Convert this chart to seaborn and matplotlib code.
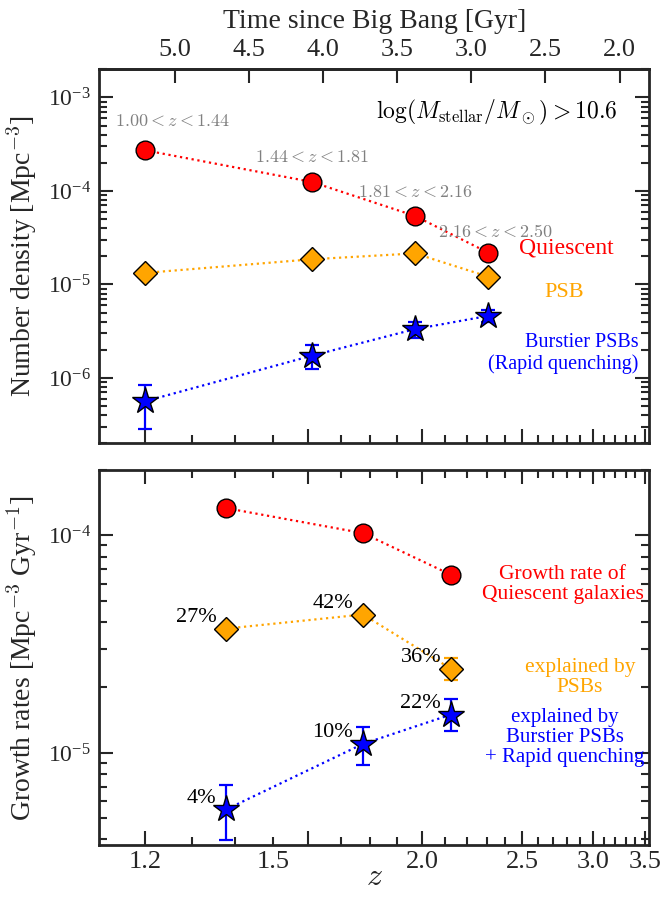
import numpy as np
import matplotlib
matplotlib.use("Agg")
import matplotlib.pyplot as plt
from matplotlib.ticker import LogLocator, NullFormatter, LogFormatterSciNotation, FixedLocator
import seaborn as sns

# ---------------- data ----------------
z_bins = [1.20, 1.61, 1.97, 2.31]
bin_labels = [r"$1.00<z<1.44$", r"$1.44<z<1.81$", r"$1.81<z<2.16$", r"$2.16<z<2.50$"]
nd_quiescent = [2.72e-4, 1.25e-4, 5.41e-5, 2.18e-5]
nd_psb = [1.33e-5, 1.86e-5, 2.15e-5, 1.21e-5]
nd_burst = [5.64e-7, 1.73e-6, 3.33e-6, 4.62e-6]
nd_burst_lo = [2.86e-7, 1.26e-6, 2.67e-6, 3.98e-6]
nd_burst_hi = [8.34e-7, 2.26e-6, 4.00e-6, 5.35e-6]

z_growth = [1.38, 1.775, 2.125]
gr_quiescent = [1.335e-4, 1.025e-4, 6.60e-5]
gr_psb = [3.73e-5, 4.33e-5, 2.44e-5]
gr_psb_lo = [3.73e-5, 4.33e-5, 2.17e-5]
gr_psb_hi = [3.73e-5, 4.33e-5, 2.72e-5]
gr_burst = [5.50e-6, 1.10e-5, 1.50e-5]
gr_burst_lo = [3.97e-6, 8.78e-6, 1.262e-5]
gr_burst_hi = [7.11e-6, 1.316e-5, 1.778e-5]
pct_psb = [27, 42, 36]
pct_burst = [4, 10, 22]

z_tick_labels = [1.2, 1.5, 2.0, 2.5, 3.0, 3.5]
z_major_ticks = [1.2, 1.6, 2.0, 2.5, 3.0, 3.5]
z_minor_ticks = [1.3, 1.4, 1.5, 1.7, 1.8, 1.9, 2.1, 2.2, 2.3, 2.4,
                 2.6, 2.7, 2.8, 2.9, 3.1, 3.2, 3.3, 3.4]
time_ticks = [5.0, 4.5, 4.0, 3.5, 3.0, 2.5, 2.0]


def cosmic_time(z, H0=70.0, Om=0.3):
    z = np.asarray(z, float)
    OL = 1.0 - Om
    tH = 977.8 / H0
    return 2 * tH / (3 * np.sqrt(OL)) * np.arcsinh(np.sqrt(OL / Om) * (1 + z) ** -1.5)


TOP_SCALE = 70.0 / 67.8  # time on top axis (different H0)

# ---------------- style ----------------
sns.set_style("ticks")
plt.rcParams["font.family"] = ["Liberation Serif", "DejaVu Serif"]
plt.rcParams["mathtext.fontset"] = "cm"
plt.rcParams["axes.linewidth"] = 2.0

fig = plt.figure(figsize=(6.6, 8.98), dpi=100)
ax1 = fig.add_axes([0.15, 0.5063, 0.8338, 0.4165])
ax2 = fig.add_axes([0.15, 0.0590, 0.8338, 0.4176])

XLIM = (5.339, 1.743)
TICK_FS = 19
YTICK_FS = 17
LABEL_FS = 20


def style_axis(ax, top_ticks=True):
    ax.set_yscale("log")
    ax.set_xlim(*XLIM)
    maj = cosmic_time(z_major_ticks)
    mnr = cosmic_time(z_minor_ticks)
    maj_lab = [f"{z:.1f}" if z in z_tick_labels else "" for z in z_major_ticks]
    mnr_lab = [f"{z:.1f}" if z in z_tick_labels else "" for z in z_minor_ticks]
    ax.set_xticks(maj, labels=maj_lab)
    ax.set_xticks(mnr, labels=mnr_lab, minor=True)
    ax.yaxis.set_major_locator(LogLocator(base=10, numticks=20))
    ax.yaxis.set_minor_locator(LogLocator(base=10, subs=np.arange(2, 10), numticks=20))
    ax.yaxis.set_major_formatter(LogFormatterSciNotation())
    ax.yaxis.set_minor_formatter(NullFormatter())
    ax.tick_params(which="both", direction="in", top=top_ticks, right=True, width=1.5)
    ax.tick_params(axis="x", which="both", pad=4, labelsize=TICK_FS)
    ax.tick_params(axis="y", which="both", pad=6, labelsize=YTICK_FS)
    ax.tick_params(which="major", length=10)
    ax.tick_params(which="minor", length=6)
    for s in ax.spines.values():
        s.set_linewidth(2.0)
        s.set_visible(True)


marker_kw = dict(markeredgecolor="black", markeredgewidth=1.0, linestyle=":",
                 linewidth=1.6, sort=False, legend=False)

# ---------------- top panel ----------------
t_bins = cosmic_time(z_bins)
nb = np.array(nd_burst)
ax1.errorbar(t_bins, nb, yerr=[nb - np.array(nd_burst_lo), np.array(nd_burst_hi) - nb],
             fmt="none", ecolor="blue", elinewidth=1.6, capsize=5, capthick=1.6, zorder=1.5)
sns.lineplot(x=t_bins, y=nd_quiescent, ax=ax1, color="red", marker="o", markersize=13.5, **marker_kw)
sns.lineplot(x=t_bins, y=nd_psb, ax=ax1, color="orange", marker="D", markersize=12, **marker_kw)
sns.lineplot(x=t_bins, y=nd_burst, ax=ax1, color="blue", marker="*", markersize=20, **marker_kw)
style_axis(ax1, top_ticks=False)
ax1.set_ylim(2e-7, 2e-3)
ax1.tick_params(axis="x", which="both", labelbottom=False)
ax1.set_ylabel(r"Number density [Mpc$^{-3}$]", fontsize=LABEL_FS, labelpad=6)

sec = ax1.secondary_xaxis("top", functions=(lambda t: t * TOP_SCALE, lambda T: T / TOP_SCALE))
sec.set_xticks(time_ticks, labels=[f"{v:.1f}" for v in time_ticks])
sec.xaxis.set_minor_locator(FixedLocator([]))
sec.tick_params(which="major", direction="in", length=10, width=1.5, labelsize=TICK_FS, pad=6)
sec.spines["top"].set_linewidth(2.0)
sec.set_xlabel("Time since Big Bang [Gyr]", fontsize=LABEL_FS, labelpad=8)

ax1.text(0.9413, 0.884, r"$\log(M_{\rm stellar}/M_\odot)>10.6$", transform=ax1.transAxes,
         ha="right", va="center", fontsize=17, color="black")
bin_pos = [(0.134, 0.860), (0.386, 0.764), (0.574, 0.670), (0.720, 0.563)]
for (bx, by), lab in zip(bin_pos, bin_labels):
    ax1.text(bx, by, lab, transform=ax1.transAxes, ha="center", va="center",
             fontsize=13, color="gray")
ax1.text(0.850, 0.522, "Quiescent", transform=ax1.transAxes, ha="center", va="center",
         fontsize=17, color="red")
ax1.text(0.845, 0.4045, "PSB", transform=ax1.transAxes, ha="center", va="center",
         fontsize=16, color="orange")
ax1.text(0.981, 0.2414, "Burstier PSBs\n(Rapid quenching)", transform=ax1.transAxes,
         ha="right", va="center", multialignment="right", fontsize=14.5,
         color="blue", linespacing=1.15)

# ---------------- bottom panel ----------------
t_gr = cosmic_time(z_growth)
gb = np.array(gr_burst)
gp = np.array(gr_psb)
ax2.errorbar(t_gr, gb, yerr=[gb - np.array(gr_burst_lo), np.array(gr_burst_hi) - gb],
             fmt="none", ecolor="blue", elinewidth=1.6, capsize=5, capthick=1.6, zorder=1.5)
ax2.errorbar(t_gr, gp, yerr=[gp - np.array(gr_psb_lo), np.array(gr_psb_hi) - gp],
             fmt="none", ecolor="orange", elinewidth=1.6, capsize=5, capthick=1.6, zorder=1.5)
sns.lineplot(x=t_gr, y=gr_quiescent, ax=ax2, color="red", marker="o", markersize=13.5, **marker_kw)
sns.lineplot(x=t_gr, y=gr_psb, ax=ax2, color="orange", marker="D", markersize=12, **marker_kw)
sns.lineplot(x=t_gr, y=gr_burst, ax=ax2, color="blue", marker="*", markersize=20, **marker_kw)
style_axis(ax2, top_ticks=True)
ax2.set_ylim(3.77e-6, 2e-4)
ax2.set_ylabel(r"Growth rates [Mpc$^{-3}$ Gyr$^{-1}$]", fontsize=LABEL_FS, labelpad=6)
ax2.set_xlabel(r"$z$", fontsize=23, labelpad=-7)

for tx, val, pct in zip(t_gr, gr_psb, pct_psb):
    ax2.annotate(f"{pct}%", xy=(tx, val), xytext=(-7, 8), textcoords="offset points",
                 ha="right", va="center", fontsize=16, color="black")
for tx, val, pct in zip(t_gr, gr_burst, pct_burst):
    ax2.annotate(f"{pct}%", xy=(tx, val), xytext=(-7, 8), textcoords="offset points",
                 ha="right", va="center", fontsize=16, color="black")

ax2.text(0.843, 0.6947, "Growth rate of\nQuiescent galaxies", transform=ax2.transAxes,
         ha="center", va="center", fontsize=15.5, color="red", linespacing=1.05)
ax2.text(0.874, 0.4467, "explained by\nPSBs", transform=ax2.transAxes,
         ha="center", va="center", fontsize=15.5, color="orange", linespacing=1.05)
ax2.text(0.846, 0.287, "explained by\nBurstier PSBs\n+ Rapid quenching", transform=ax2.transAxes,
         ha="center", va="center", fontsize=15, color="blue", linespacing=1.05)

fig.savefig("out.png", dpi=100)
